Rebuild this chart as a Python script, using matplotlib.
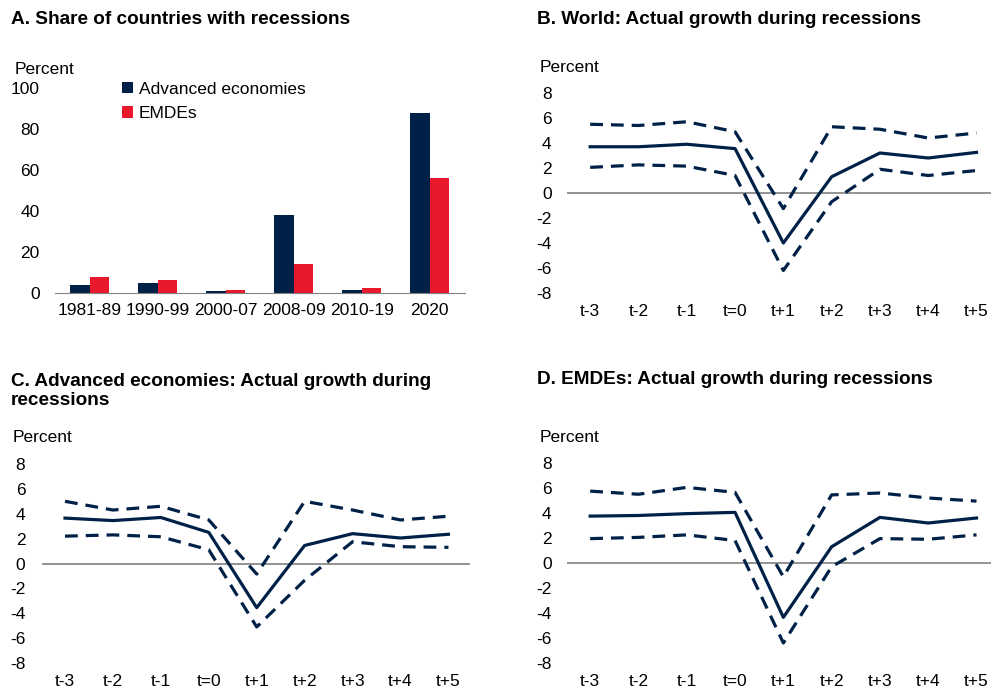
import matplotlib.pyplot as plt
import numpy as np

plt.rcParams['font.family'] = ['Liberation Sans', 'DejaVu Sans']
plt.rcParams['axes.unicode_minus'] = False

NAVY = "#002147"
RED = "#E8192C"
FS = 12.5
TFS = 13.7

# panel A
periods = ["1981-89", "1990-99", "2000-07", "2008-09", "2010-19", "2020"]
share_ae = [4, 5, 1, 38, 1.5, 88]
share_emde = [8, 6.5, 1.5, 14, 2.5, 56]

# panels B-D
horizon = ["t-3", "t-2", "t-1", "t=0", "t+1", "t+2", "t+3", "t+4", "t+5"]

world_mid = [3.7, 3.7, 3.9, 3.55, -4.0, 1.3, 3.2, 2.8, 3.25]
world_hi = [5.5, 5.4, 5.7, 4.9, -1.25, 5.3, 5.1, 4.4, 4.8]
world_lo = [2.05, 2.25, 2.15, 1.4, -6.2, -0.7, 1.9, 1.4, 1.8]

ae_mid = [3.65, 3.45, 3.7, 2.5, -3.55, 1.45, 2.4, 2.05, 2.35]
ae_hi = [5.0, 4.3, 4.6, 3.5, -0.85, 5.0, 4.3, 3.5, 3.8]
ae_lo = [2.2, 2.3, 2.15, 1.1, -5.1, -1.35, 1.75, 1.35, 1.3]

emde_mid = [3.75, 3.8, 3.95, 4.05, -4.35, 1.3, 3.65, 3.2, 3.6]
emde_hi = [5.75, 5.5, 6.05, 5.65, -1.1, 5.45, 5.6, 5.2, 4.95]
emde_lo = [1.95, 2.05, 2.25, 1.8, -6.4, -0.3, 1.95, 1.9, 2.25]

W, H = 992, 692
fig = plt.figure(figsize=(W / 100, H / 100), dpi=100)


def px_axes(left, right, top, bottom):
    return fig.add_axes([left / W, 1 - bottom / H, (right - left) / W, (bottom - top) / H])


def clean(ax):
    for s in ["top", "right", "left"]:
        ax.spines[s].set_visible(False)
    ax.tick_params(length=0, labelsize=FS)


# ---- A ----
ax = px_axes(55, 465, 88, 293)
x = np.arange(len(periods))
w = 0.285
ax.bar(x - w / 2, share_ae, w, color=NAVY, label="Advanced economies")
ax.bar(x + w / 2, share_emde, w, color=RED, label="EMDEs")
ax.set_ylim(0, 100)
ax.set_xlim(-0.51, 5.52)
ax.set_yticks(range(0, 101, 20))
ax.set_xticks(x, periods)
clean(ax)
ax.spines["bottom"].set_color("#808080")
ax.tick_params(axis="y", pad=11)
ax.tick_params(axis="x", pad=7.5)
ax.legend(loc="upper left", bbox_to_anchor=(0.147, 1.065), frameon=False, fontsize=FS,
          handlelength=0.65, handleheight=0.65, handletextpad=0.3, labelspacing=0.55,
          borderaxespad=0)
fig.text(11 / W, 1 - 20 / H, "A. Share of countries with recessions", fontsize=TFS,
         fontweight="bold", va="center")
fig.text(15 / W, 1 - 70 / H, "Percent", fontsize=FS, va="center")

# ---- B, C, D ----
axb = px_axes(567, 991, 93, 293)
axc = px_axes(42, 470, 464, 663)
axd = px_axes(567, 991, 463, 663)

for ax, mid, hi, lo in [(axb, world_mid, world_hi, world_lo),
                        (axc, ae_mid, ae_hi, ae_lo),
                        (axd, emde_mid, emde_hi, emde_lo)]:
    xs = np.arange(len(horizon))
    ax.axhline(0, color="#808080", lw=1.2, zorder=1)
    ax.plot(xs, mid, color=NAVY, lw=2.3, zorder=3)
    ax.plot(xs, hi, color=NAVY, lw=2.3, ls=(0, (4, 2.5)), zorder=3)
    ax.plot(xs, lo, color=NAVY, lw=2.3, ls=(0, (4, 2.5)), zorder=3)
    ax.set_ylim(-8, 8)
    ax.set_yticks(range(-8, 9, 2))
    ax.set_xticks(xs, horizon)
    clean(ax)
    ax.spines["bottom"].set_visible(False)
    ax.tick_params(axis="x", pad=8)

axb.set_xlim(-0.48, 8.3)
axd.set_xlim(-0.48, 8.3)
axc.set_xlim(-0.48, 8.45)
axb.tick_params(axis="y", pad=11)
axd.tick_params(axis="y", pad=11)
axc.tick_params(axis="y", pad=12)

fig.text(537 / W, 1 - 20 / H, "B. World: Actual growth during recessions", fontsize=TFS,
         fontweight="bold", va="center")
fig.text(540 / W, 1 - 68 / H, "Percent", fontsize=FS, va="center")
fig.text(11 / W, 1 - 391 / H, "C. Advanced economies: Actual growth during\nrecessions",
         fontsize=TFS, fontweight="bold", va="center", linespacing=1.15)
fig.text(13 / W, 1 - 438 / H, "Percent", fontsize=FS, va="center")
fig.text(537 / W, 1 - 380 / H, "D. EMDEs: Actual growth during recessions", fontsize=TFS,
         fontweight="bold", va="center")
fig.text(540 / W, 1 - 438 / H, "Percent", fontsize=FS, va="center")

fig.savefig("out.png", dpi=100)
